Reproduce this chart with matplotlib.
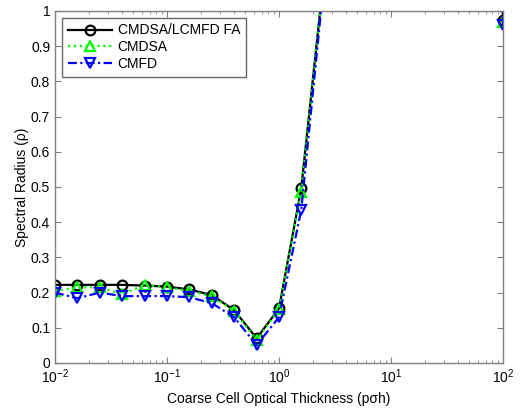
import matplotlib
matplotlib.use("Agg")
import matplotlib.pyplot as plt
from matplotlib.ticker import LogLocator, NullFormatter

plt.rcParams['font.family'] = ['Liberation Sans', 'DejaVu Sans']
plt.rcParams['mathtext.fontset'] = 'custom'
plt.rcParams['mathtext.rm'] = 'Liberation Sans'
plt.rcParams['mathtext.it'] = 'Liberation Sans:italic'
plt.rcParams['mathtext.bf'] = 'Liberation Sans:bold'
plt.rcParams['mathtext.default'] = 'regular'

x = [0.01, 0.0158, 0.0251, 0.0398, 0.0631, 0.1, 0.158, 0.251, 0.398, 0.631,
     1.0, 1.58, 2.51, 3.98, 6.31, 10.0, 15.8, 25.1, 39.8, 63.1, 100.0]
lcmfd = [0.222, 0.222, 0.222, 0.222, 0.220, 0.217, 0.209, 0.193, 0.150, 0.070,
         0.155, 0.496, 1.096, 1.5, 2.0, 2.4, 2.7, 2.9, 3.0, 3.0, 0.975]
cmdsa = [0.205, 0.215, 0.215, 0.195, 0.222, 0.215, 0.205, 0.190, 0.148, 0.065,
         0.152, 0.487, 1.09, 1.5, 2.0, 2.4, 2.7, 2.9, 3.0, 3.0, 0.970]
cmfd = [0.200, 0.184, 0.200, 0.190, 0.190, 0.190, 0.187, 0.170, 0.130, 0.051,
        0.130, 0.435, 1.079, 1.5, 2.0, 2.4, 2.7, 2.9, 3.0, 3.0, 0.960]
labels = ['CMDSA/LCMFD FA', 'CMDSA', 'CMFD']

fig = plt.figure(figsize=(5.21, 4.08), dpi=100)
ax = fig.add_axes([55/521, 45/408, 448/521, 352/408])

ax.plot(x, lcmfd, color='black', lw=1.6, ls='-', marker='o', ms=7,
        mfc='none', mec='black', mew=1.6, label=labels[0])
ax.plot(x, cmdsa, color='#00ff00', lw=1.6, ls=':', marker='^', ms=7,
        mfc='none', mec='#00ff00', mew=1.6, label=labels[1])
ax.plot(x, cmfd, color='#0000ff', lw=1.6, ls=(0, (4, 1.5, 1, 1.5)), marker='v', ms=7,
        mfc='none', mec='#0000ff', mew=1.6, label=labels[2])

ax.set_xscale('log')
ax.set_xlim(0.01, 100)
ax.set_ylim(0, 1)
ax.set_yticks([i/10 for i in range(11)])
ax.set_yticklabels(['0', '0.1', '0.2', '0.3', '0.4', '0.5', '0.6', '0.7', '0.8', '0.9', '1'])
ax.xaxis.set_minor_locator(LogLocator(base=10, subs=range(2, 10), numticks=20))
ax.xaxis.set_minor_formatter(NullFormatter())

for s in ax.spines.values():
    s.set_color('#808080')
    s.set_linewidth(1)
ax.tick_params(which='both', direction='in', top=True, right=True,
               colors='#808080', labelcolor='black', labelsize=10)
ax.tick_params(which='major', length=4)
ax.tick_params(which='minor', length=2)

ax.set_xlabel('Coarse Cell Optical Thickness (p\u03c3h)', fontsize=10)
ax.set_ylabel('Spectral Radius (\u03c1)', fontsize=10)
ax.yaxis.set_label_coords(-0.058, 0.5)

leg = ax.legend(loc='upper left', fontsize=10, frameon=True, fancybox=False,
                edgecolor='#404040', handlelength=3.2, borderpad=0.4,
                labelspacing=0.2, handletextpad=0.4, borderaxespad=0.5)
leg.get_frame().set_linewidth(1)

fig.savefig('out.png', dpi=100)
